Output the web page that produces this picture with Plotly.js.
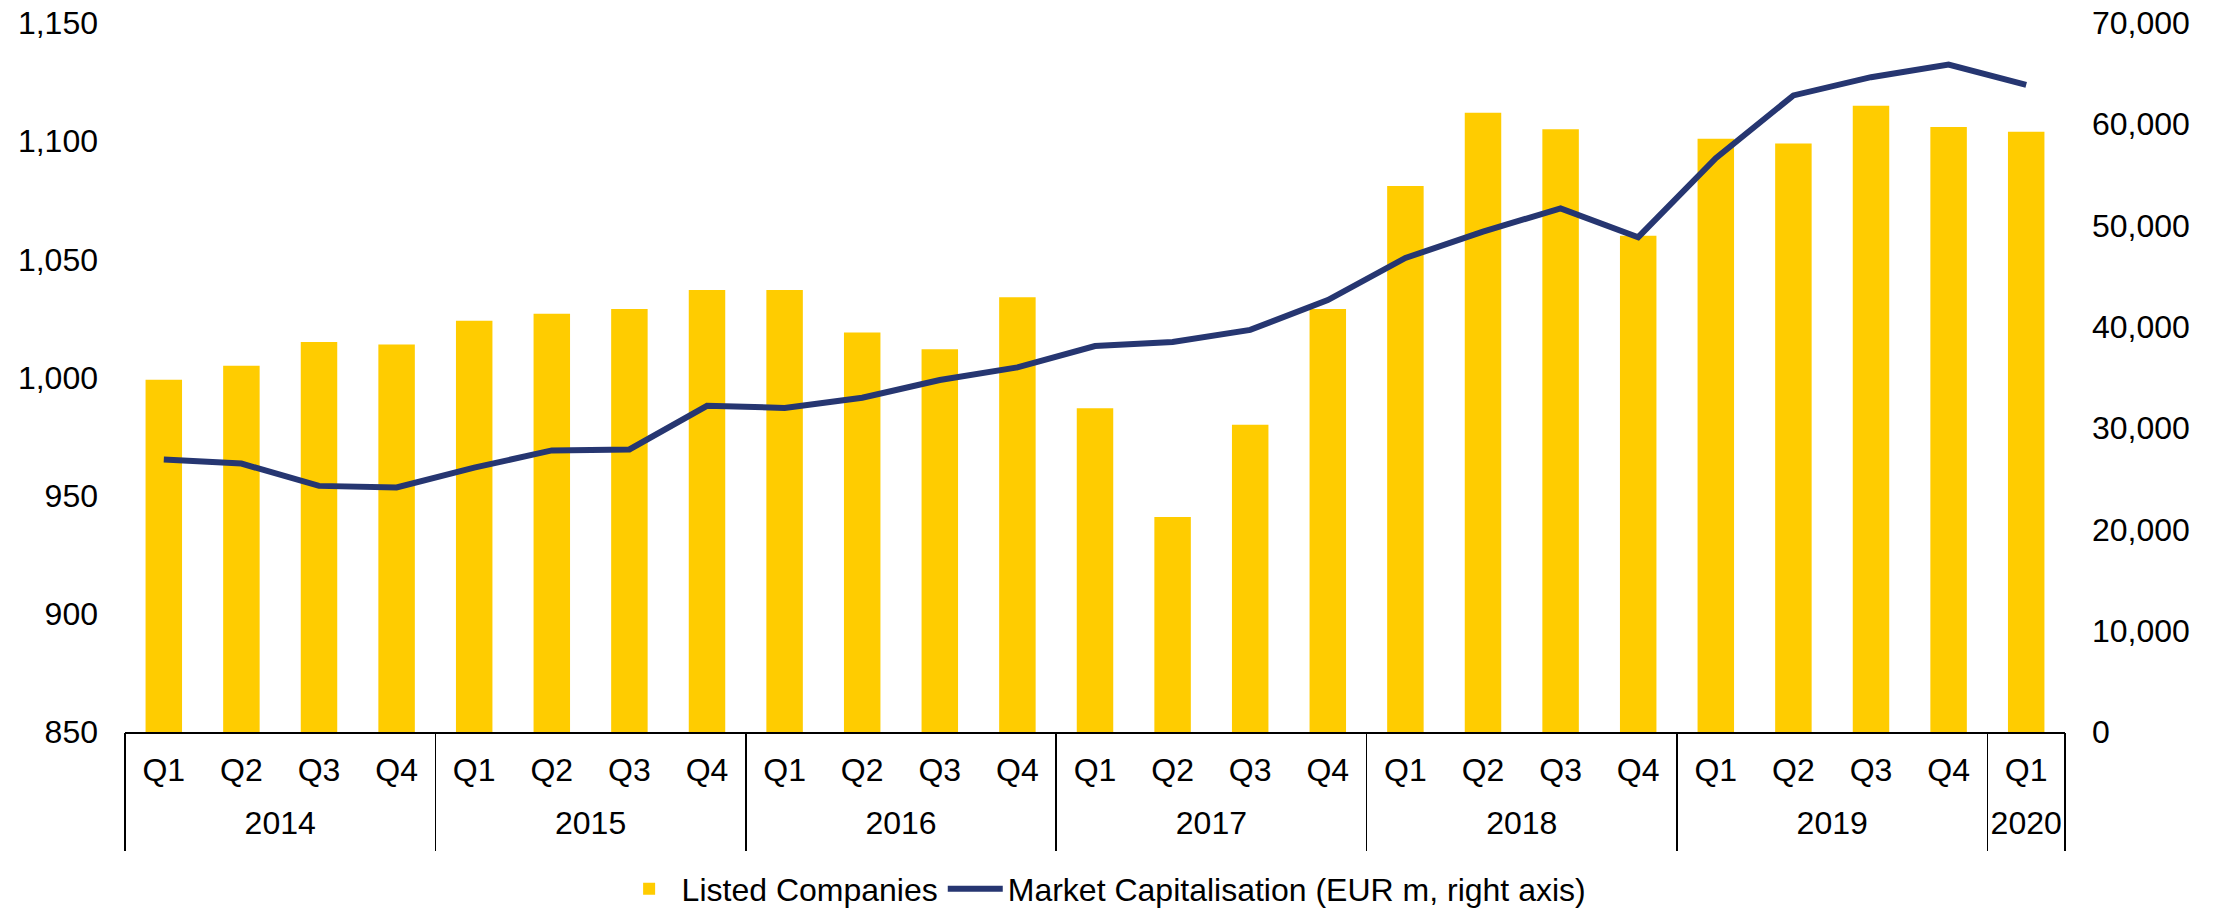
<!DOCTYPE html>
<html>
<head>
<meta charset="utf-8">
<script src="https://cdn.plot.ly/plotly-3.0.1.min.js"></script>
<style>html,body{margin:0;padding:0;background:#fff;}#chart{width:2221px;height:908px;}</style>
</head>
<body>
<div id="chart"></div>
<script>
const years = ['2014','2014','2014','2014','2015','2015','2015','2015','2016','2016','2016','2016','2017','2017','2017','2017','2018','2018','2018','2018','2019','2019','2019','2019','2020'];
const quarters = ['Q1','Q2','Q3','Q4','Q1','Q2','Q3','Q4','Q1','Q2','Q3','Q4','Q1','Q2','Q3','Q4','Q1','Q2','Q3','Q4','Q1','Q2','Q3','Q4','Q1'];
const listedCompanies = [999,1005,1015,1014,1024,1027,1029,1037,1037,1019,1012,1034,987,941,980,1029,1081,1112,1105,1060,1101,1099,1115,1106,1104];
const marketCap = [26900,26500,24300,24150,26100,27800,27900,32200,32000,33000,34750,36000,38100,38500,39700,42650,46800,49400,51700,48850,56650,62850,64650,65900,63900];

const FONT = 'Liberation Sans, Arial, sans-serif';
const FS = 32;

// category positions (index of each quarter) and year groups derived from the arrays
const pos = quarters.map((_, i) => i);
const yearNames = [...new Set(years)];
const yearCentres = yearNames.map(y => {
  const ids = pos.filter(i => years[i] === y);
  return (ids[0] + ids[ids.length - 1]) / 2;
});
const boundaries = [-0.5].concat(yearNames.map(y => {
  const ids = pos.filter(i => years[i] === y);
  return ids[ids.length - 1] + 0.5;
}));
const xRange = [-0.5, quarters.length - 0.5];

const traces = [
  {
    type: 'bar',
    name: 'Listed Companies',
    x: pos,
    y: listedCompanies,
    width: 0.47,
    marker: {color: '#FFCC00'},
    xaxis: 'x',
    yaxis: 'y'
  },
  {
    type: 'scatter',
    mode: 'lines',
    name: 'Market Capitalisation (EUR m, right axis)',
    x: pos,
    y: marketCap,
    line: {color: '#263671', width: 6},
    xaxis: 'x',
    yaxis: 'y2'
  },
  // empty helper traces so the year-label axis and the group-divider axis are drawn
  {type: 'scatter', mode: 'none', x: yearCentres, y: yearCentres.map(() => null), xaxis: 'x2', yaxis: 'y', showlegend: false, hoverinfo: 'skip'},
  {type: 'scatter', mode: 'none', x: boundaries, y: boundaries.map(() => null), xaxis: 'x3', yaxis: 'y', showlegend: false, hoverinfo: 'skip'}
];

const layout = {
  width: 2221,
  height: 908,
  margin: {l: 125, r: 156, t: 23, b: 176},
  paper_bgcolor: '#fff',
  plot_bgcolor: '#fff',
  font: {family: FONT, size: FS, color: '#000'},
  showlegend: true,
  legend: {orientation: 'h', x: 0.5047, xanchor: 'center', xref: 'paper', yref: 'container', y: 0.021, yanchor: 'middle', font: {size: FS}, itemwidth: 55, traceorder: 'normal'},
  xaxis: {
    automargin: false,
    range: xRange,
    tickmode: 'array',
    tickvals: pos,
    ticktext: quarters,
    showline: true,
    linecolor: '#000',
    linewidth: 1.5,
    ticks: '',
    ticklabelstandoff: 9,
    showgrid: false,
    zeroline: false,
    tickfont: {size: FS}
  },
  xaxis2: {
    automargin: false,
    overlaying: 'x',
    anchor: 'y',
    side: 'bottom',
    range: xRange,
    tickmode: 'array',
    tickvals: yearCentres,
    ticktext: yearNames,
    showline: false,
    ticks: '',
    ticklabelstandoff: 69,
    showgrid: false,
    zeroline: false,
    tickfont: {size: FS}
  },
  xaxis3: {
    automargin: false,
    overlaying: 'x',
    anchor: 'y',
    side: 'bottom',
    range: xRange,
    tickmode: 'array',
    tickvals: boundaries,
    showticklabels: false,
    showline: false,
    ticks: 'outside',
    ticklen: 118,
    tickwidth: 1.5,
    tickcolor: '#000',
    showgrid: false,
    zeroline: false
  },
  yaxis: {
    automargin: false,
    range: [850, 1150],
    dtick: 50,
    tickformat: ',',
    showgrid: false,
    zeroline: false,
    showline: false,
    ticks: '',
    ticklabelstandoff: 26,
    tickfont: {size: FS}
  },
  yaxis2: {
    automargin: false,
    range: [0, 70000],
    dtick: 10000,
    tickformat: ',',
    overlaying: 'y',
    side: 'right',
    showgrid: false,
    zeroline: false,
    showline: false,
    ticks: '',
    ticklabelstandoff: 26,
    tickfont: {size: FS}
  }
};

Plotly.newPlot('chart', traces, layout, {displayModeBar: false, staticPlot: true});
</script>
</body>
</html>
